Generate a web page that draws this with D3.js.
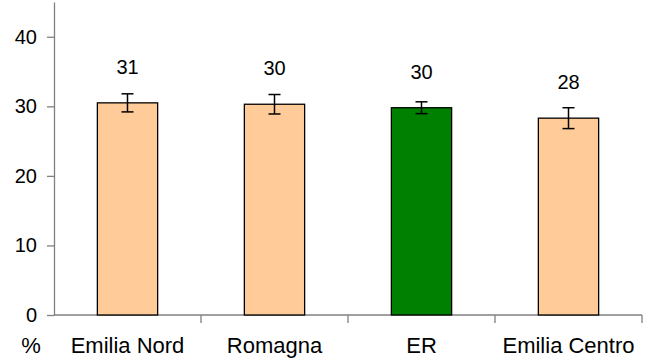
<!DOCTYPE html>
<html>
<head>
<meta charset="utf-8">
<script src="https://cdn.jsdelivr.net/npm/d3@7"></script>
<style>
  body { margin: 0; background: #fff; }
  text { font-family: "Liberation Sans", Arial, sans-serif; }
</style>
</head>
<body>
<div id="chart"></div>
<script>
const categories = ["Emilia Nord", "Romagna", "ER", "Emilia Centro"];
const values = [30.5, 30.3, 29.8, 28.3];
const errors = [1.3, 1.4, 0.85, 1.5];
const valueLabels = ["31", "30", "30", "28"];
const yTicks = [0, 10, 20, 30, 40];

const width = 648, height = 359;
const margin = { top: 2, right: 642, bottom: 315, left: 54 };

const svg = d3.select("#chart").append("svg")
  .attr("width", width)
  .attr("height", height);

const x = d3.scaleBand()
  .domain(categories)
  .range([margin.left, margin.right]);

const y = d3.scaleLinear()
  .domain([0, 45])
  .range([margin.bottom, margin.top]);

const barW = x.bandwidth() * 0.41;

// y axis
const yAxis = svg.append("g")
  .attr("transform", `translate(${margin.left},0)`)
  .call(d3.axisLeft(y).tickValues(yTicks).tickSize(7).tickPadding(10).tickSizeOuter(0));
yAxis.select(".domain").attr("stroke", "#808080").attr("stroke-width", 1.3);
yAxis.selectAll(".tick line").attr("stroke", "#808080").attr("stroke-width", 1.3);
yAxis.selectAll(".tick text").attr("font-size", 20).attr("fill", "#000")
  .attr("font-family", "Liberation Sans, Arial, sans-serif");

// x axis line with ticks at band edges
const xg = svg.append("g");
xg.append("line")
  .attr("x1", margin.left).attr("x2", margin.right)
  .attr("y1", y(0)).attr("y2", y(0))
  .attr("stroke", "#808080").attr("stroke-width", 1.3);
xg.selectAll(".xt")
  .data(categories.slice(1).concat(["end"]))
  .join("line")
  .attr("class", "xt")
  .attr("x1", d => d === "end" ? margin.right : x(d))
  .attr("x2", d => d === "end" ? margin.right : x(d))
  .attr("y1", y(0)).attr("y2", y(0) + 8)
  .attr("stroke", "#808080").attr("stroke-width", 1.3);

// bars
svg.append("g")
  .selectAll("rect")
  .data(categories)
  .join("rect")
  .attr("x", d => x(d) + x.bandwidth() / 2 - barW / 2)
  .attr("y", (d, i) => y(values[i]))
  .attr("width", barW)
  .attr("height", (d, i) => y(0) - y(values[i]))
  .attr("fill", d => d === "ER" ? "#008000" : "#FFCC99")
  .attr("stroke", "#000")
  .attr("stroke-width", 1.3);

// error bars
const eb = svg.append("g").attr("stroke", "#000").attr("stroke-width", 1.5);
categories.forEach((c, i) => {
  const cx = x(c) + x.bandwidth() / 2;
  const hi = y(values[i] + errors[i]);
  const lo = y(values[i] - errors[i]);
  eb.append("line").attr("x1", cx).attr("x2", cx).attr("y1", hi).attr("y2", lo);
  eb.append("line").attr("x1", cx - 6).attr("x2", cx + 6).attr("y1", hi).attr("y2", hi);
  eb.append("line").attr("x1", cx - 6).attr("x2", cx + 6).attr("y1", lo).attr("y2", lo);
});

// value labels
svg.append("g")
  .selectAll("text")
  .data(categories)
  .join("text")
  .attr("x", d => x(d) + x.bandwidth() / 2)
  .attr("y", (d, i) => y(values[i]) - 29)
  .attr("text-anchor", "middle")
  .attr("font-size", 20)
  .text((d, i) => valueLabels[i]);

// category labels
svg.append("g")
  .selectAll("text")
  .data(categories)
  .join("text")
  .attr("x", d => x(d) + x.bandwidth() / 2)
  .attr("y", 353)
  .attr("text-anchor", "middle")
  .attr("font-size", 22)
  .text(d => d);

svg.append("text")
  .attr("x", 31)
  .attr("y", 353)
  .attr("text-anchor", "middle")
  .attr("font-size", 22)
  .text("%");
</script>
</body>
</html>
